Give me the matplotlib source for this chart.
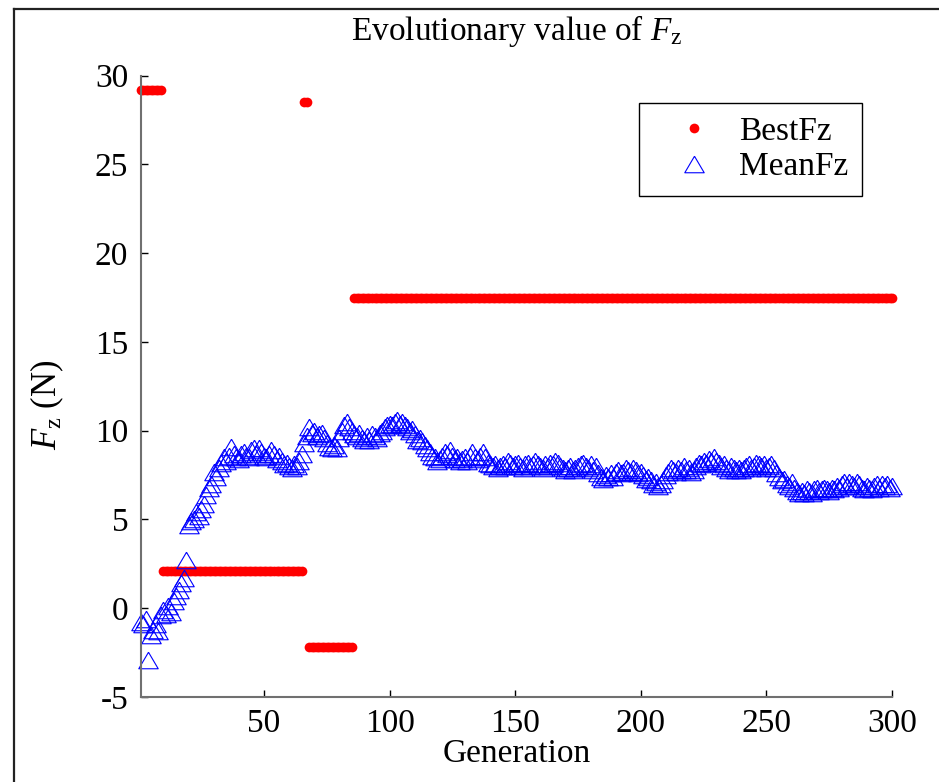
import matplotlib
matplotlib.use('Agg')
import matplotlib.pyplot as plt
from matplotlib.lines import Line2D
import numpy as np

plt.rcParams['font.family'] = 'Liberation Serif'
plt.rcParams['mathtext.fontset'] = 'custom'
plt.rcParams['mathtext.rm'] = 'Liberation Serif'
plt.rcParams['mathtext.it'] = 'Liberation Serif:italic'
plt.rcParams['axes.unicode_minus'] = False

# best individual per generation: (first gen, last gen, value)
best_segments = [(1, 9, 29.2), (10, 65, 2.1), (66, 67, 28.5),
                 (68, 85, -2.2), (86, 300, 17.45)]

# population mean per generation
mean_fz = [
    -0.8, -0.9, -0.6, -2.9, -1.5, -1.2, -0.9, -1.3, -0.4, -0.1,
    -0.3, 0.1, -0.2, 0.4, 0.7, 1.0, 1.4, 1.7, 2.7, 4.7,
    4.9, 5.0, 5.4, 5.2, 5.6, 5.9, 6.4, 6.8, 7.0, 7.7,
    7.4, 7.9, 8.2, 8.5, 8.3, 8.6, 9.1, 8.7, 8.5, 8.4,
    8.7, 8.8, 8.6, 8.5, 8.9, 9.0, 8.7, 9.0, 8.8, 8.6,
    8.5, 8.7, 8.9, 8.7, 8.4, 8.6, 8.3, 8.1, 8.2, 8.0,
    7.9, 8.1, 8.0, 8.3, 8.7, 9.3, 9.7, 10.2, 9.9, 10.0,
    9.7, 9.8, 9.9, 9.6, 9.3, 9.1, 9.0, 9.2, 9.0, 9.6,
    10.0, 10.3, 10.5, 10.2, 10.0, 9.8, 9.7, 9.9, 9.6, 9.5,
    9.7, 9.5, 9.8, 9.7, 9.6, 9.9, 10.0, 10.2, 10.3, 10.4,
    10.3, 10.5, 10.6, 10.4, 10.5, 10.3, 10.2, 10.0, 10.1, 9.8,
    9.5, 9.6, 9.4, 9.2, 9.0, 8.8, 8.6, 8.5, 8.3, 8.4,
    8.6, 8.8, 8.7, 8.9, 8.6, 8.4, 8.5, 8.3, 8.4, 8.5,
    8.3, 8.6, 8.8, 8.5, 8.4, 8.6, 8.8, 8.5, 8.2, 8.1,
    8.0, 8.1, 7.9, 8.0, 8.1, 8.0, 8.3, 8.2, 8.0, 8.1,
    8.2, 8.0, 7.9, 8.1, 8.2, 8.0, 8.1, 8.3, 8.1, 8.0,
    7.9, 8.1, 8.0, 8.2, 8.1, 8.3, 8.2, 8.0, 7.9, 7.8,
    7.9, 8.0, 7.8, 7.9, 8.0, 8.1, 8.2, 8.0, 7.9, 8.1,
    7.8, 8.0, 7.6, 7.4, 7.3, 7.5, 7.4, 7.6, 7.4, 7.7,
    7.8, 7.6, 7.7, 7.9, 7.8, 7.7, 7.9, 7.8, 7.6, 7.7,
    7.5, 7.3, 7.4, 7.2, 7.0, 7.1, 6.9, 7.0, 7.2, 7.5,
    7.7, 7.9, 7.8, 7.7, 7.9, 7.8, 8.0, 7.8, 7.9, 7.7,
    7.8, 8.0, 8.2, 8.1, 8.3, 8.2, 8.4, 8.3, 8.5, 8.3,
    8.2, 8.0, 8.1, 7.9, 7.8, 8.0, 7.9, 7.8, 7.9, 7.8,
    7.9, 8.0, 8.1, 7.9, 8.0, 8.2, 8.1, 8.0, 8.1, 7.9,
    8.0, 8.1, 7.9, 7.6, 7.4, 7.2, 7.3, 7.0, 6.9, 7.1,
    6.8, 6.6, 6.5, 6.6, 6.5, 6.7, 6.6, 6.5, 6.7, 6.8,
    6.6, 6.7, 6.8, 6.7, 6.6, 6.8, 6.7, 6.9, 6.8, 7.0,
    7.1, 6.9, 7.1, 7.0, 6.9, 7.1, 7.0, 6.8, 6.7, 6.9,
    6.8, 6.7, 6.9, 7.0, 6.8, 7.0, 6.9, 7.0, 6.8, 6.9,
]

x_ticks = [50, 100, 150, 200, 250, 300]
y_ticks = [-5, 0, 5, 10, 15, 20, 25, 30]

gen = np.arange(1, len(mean_fz) + 1)
best_fz = np.zeros(len(gen))
for g0, g1, v in best_segments:
    best_fz[(gen >= g0) & (gen <= g1)] = v

fig = plt.figure(figsize=(9.39, 7.82), dpi=100)
ax = fig.add_axes([0.150, 0.1087, 0.800, 0.7945])

tri = [(0, 0.85), (-1, -0.85), (1, -0.85), (0, 0.85)]
ax.plot(gen, best_fz, 'o', color='#ff0000', ms=7, mew=0, label='BestFz',
        clip_on=False)
ax.plot(gen, mean_fz, linestyle='none', marker=tri, ms=14, mfc='none',
        mec='#0000ff', mew=0.8, label='MeanFz', clip_on=False)

ax.set_xlim(1, 300)
ax.set_ylim(-5, 30)
ax.set_xticks(x_ticks)
ax.set_yticks(y_ticks)
ax.tick_params(direction='in', length=5, width=1, labelsize=24, color='k')
ax.tick_params(axis='y', pad=9)
ax.tick_params(axis='x', pad=8)
for s in ['top', 'right']:
    ax.spines[s].set_visible(False)
for s in ['left', 'bottom']:
    ax.spines[s].set_color('#707070')
    ax.spines[s].set_linewidth(1.5)

ax.set_xlabel('Generation', fontsize=24, labelpad=0)
ax.set_ylabel(r'$F_{\mathrm{z}}$ (N)', fontsize=25)
ax.yaxis.set_label_coords(-0.100, 0.47)
ax.set_title(r'Evolutionary value of $F_{\mathrm{z}}$', fontsize=24, pad=26)

leg = ax.legend(loc='upper right', bbox_to_anchor=(862 / 939, 1 - 103 / 782),
                bbox_transform=fig.transFigure, borderaxespad=0,
                fontsize=24, fancybox=False, edgecolor='k', framealpha=1,
                handlelength=2.5, handletextpad=0.1, labelspacing=0.15,
                borderpad=0.4)
leg.get_frame().set_linewidth(1.0)

# outer figure frame
fig.add_artist(Line2D([14 / 939, 14 / 939], [0, 1 - 9 / 782], color='#222222', lw=1.6))
fig.add_artist(Line2D([14 / 939, 1], [1 - 9 / 782, 1 - 9 / 782], color='#222222', lw=1.6))

fig.savefig('out.png', dpi=100)
